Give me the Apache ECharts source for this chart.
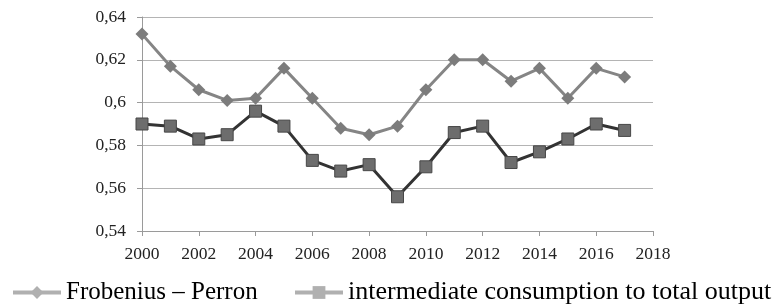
<!DOCTYPE html>
<html>
<head>
<meta charset="utf-8">
<script src="https://cdn.jsdelivr.net/npm/echarts@6/dist/echarts.min.js"></script>
<style>
  html, body { margin: 0; padding: 0; background: #fff; }
  #main { width: 777px; height: 307px; }
</style>
</head>
<body>
<div id="main"></div>
<script>
// years on the x axis
var years = [2000, 2001, 2002, 2003, 2004, 2005, 2006, 2007, 2008,
             2009, 2010, 2011, 2012, 2013, 2014, 2015, 2016, 2017];
// Frobenius - Perron values
var frobeniusPerron = [0.632, 0.617, 0.606, 0.601, 0.602, 0.616, 0.602, 0.588, 0.585,
                       0.589, 0.606, 0.620, 0.620, 0.610, 0.616, 0.602, 0.616, 0.612];
// intermediate consumption to total output
var intermediate = [0.590, 0.589, 0.583, 0.585, 0.596, 0.589, 0.573, 0.568, 0.571,
                    0.556, 0.570, 0.586, 0.589, 0.572, 0.577, 0.583, 0.590, 0.587];

var seriesNames = ['Frobenius – Perron', 'intermediate consumption to total output'];

function pairs(xs, ys) {
  var out = [];
  for (var i = 0; i < xs.length; i++) {
    out.push([xs[i], ys[i]]);
  }
  return out;
}

// 0.6 -> "0,6", 0.64 -> "0,64"
function commaNum(v) {
  return String(Math.round(v * 100) / 100).replace('.', ',');
}

var font = 'Liberation Serif';
var legendIcon = { color: '#b0b0b0', borderWidth: 0 };
var legendLine = { color: '#b0b0b0', width: 4 };

// one legend per item so each can sit where the reference puts it
function legendFor(name, left, top, size) {
  return {
    left: left,
    top: top,
    padding: 0,
    itemWidth: 48,
    itemHeight: 16,
    textStyle: { fontFamily: font, fontSize: size, color: '#000' },
    data: [{ name: name, itemStyle: legendIcon, lineStyle: legendLine }]
  };
}

var myChart = echarts.init(document.getElementById('main'));

var option = {
  animation: false,
  backgroundColor: '#fff',
  textStyle: { fontFamily: font },
  grid: { left: 142, right: 124, top: 17, bottom: 76 },
  legend: [
    legendFor(seriesNames[0], 11, 280, 25),
    legendFor(seriesNames[1], 293, 279.5, 26)
  ],
  xAxis: {
    type: 'value',
    min: 2000,
    max: 2018,
    interval: 2,
    axisLine: { show: true, lineStyle: { color: '#9a9a9a', width: 1 } },
    axisTick: { show: true, length: 5, lineStyle: { color: '#9a9a9a' } },
    splitLine: { show: false },
    axisLabel: {
      fontFamily: font, fontSize: 17.5, color: '#222', margin: 14,
      formatter: function (v) { return String(v); }
    }
  },
  yAxis: {
    type: 'value',
    min: 0.54,
    max: 0.64,
    interval: 0.02,
    axisLine: { show: true, lineStyle: { color: '#9a9a9a', width: 1 } },
    axisTick: { show: true, length: 5, lineStyle: { color: '#9a9a9a' } },
    splitLine: { show: true, lineStyle: { color: '#b4b4b4', width: 1 } },
    axisLabel: { fontFamily: font, fontSize: 17.5, color: '#222', margin: 16, formatter: commaNum }
  },
  series: [
    {
      name: seriesNames[0],
      type: 'line',
      data: pairs(years, frobeniusPerron),
      symbol: 'diamond',
      symbolSize: 13,
      lineStyle: { color: '#858585', width: 3 },
      itemStyle: { color: '#7c7c7c', borderColor: '#7c7c7c', borderWidth: 0 },
      z: 3
    },
    {
      name: seriesNames[1],
      type: 'line',
      data: pairs(years, intermediate),
      symbol: 'rect',
      symbolSize: 12,
      lineStyle: { color: '#333', width: 3 },
      itemStyle: { color: '#6d6d6d', borderColor: '#474747', borderWidth: 1 },
      z: 4
    }
  ]
};

myChart.setOption(option);
</script>
</body>
</html>
